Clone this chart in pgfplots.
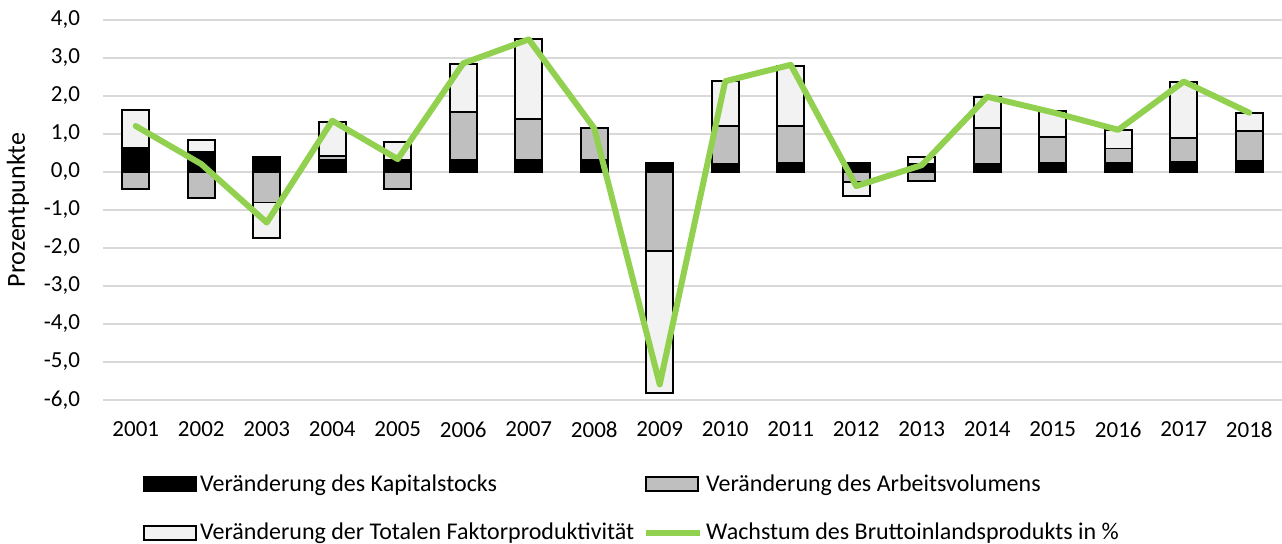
\documentclass[border=0pt]{standalone}
\usepackage{pgfplots}
\pgfplotsset{compat=1.18}
\usepackage{pgfplotstable}
\usepackage{fontspec}
\setmainfont{Carlito}
\definecolor{kap}{HTML}{000000}
\definecolor{arb}{HTML}{BFBFBF}
\definecolor{tfp}{HTML}{F2F2F2}
\definecolor{bip}{HTML}{92D050}
\definecolor{gridc}{HTML}{D9D9D9}
\pgfplotstableread{
idx year K A T G
0 2001 0.64 -0.45 0.99 1.21
1 2002 0.52 -0.68 0.32 0.21
2 2003 0.39 -0.80 -0.94 -1.33
3 2004 0.31 0.12 0.88 1.35
4 2005 0.31 -0.45 0.49 0.34
5 2006 0.31 1.26 1.27 2.86
6 2007 0.31 1.08 2.10 3.49
7 2008 0.33 0.83 0.00 1.15
8 2009 0.25 -2.07 -3.75 -5.59
9 2010 0.21 1.01 1.17 2.39
10 2011 0.25 0.97 1.57 2.82
11 2012 0.25 -0.26 -0.37 -0.37
12 2013 0.21 -0.24 0.19 0.18
13 2014 0.21 0.94 0.82 1.98
14 2015 0.23 0.70 0.68 1.57
15 2016 0.23 0.39 0.49 1.11
16 2017 0.26 0.64 1.46 2.38
17 2018 0.29 0.79 0.48 1.56
}\data
\begin{document}
\begin{tikzpicture}[font=\fontsize{11.5}{13.5}\selectfont]
\useasboundingbox (0,0) rectangle (641pt,271.5pt);
\begin{axis}[
  at={(51.5pt,71.5pt)}, anchor=south west,
  scale only axis, width=589.5pt, height=190pt,
  xmin=-0.5, xmax=17.5, ymin=-6, ymax=4,
  xtick=data, xticklabels={2001,2002,2003,2004,2005,2006,2007,2008,2009,2010,2011,2012,2013,2014,2015,2016,2017,2018},
  ytick={-6,-5,...,4},
  ymajorgrids, grid style={gridc, line width=0.7pt},
  axis line style={draw=none},
  major tick length=0pt,
  /pgf/number format/assume math mode=true,
  yticklabel style={/pgf/number format/fixed, /pgf/number format/fixed zerofill, /pgf/number format/precision=1, /pgf/number format/use comma, /tikz/xshift=-8pt},
  xticklabel style={/tikz/yshift=-7.5pt},
  ylabel={Prozentpunkte},
  every axis y label/.style={at={(axis description cs:0,0.5)}, xshift=-42.5pt, rotate=90, anchor=center, font=\fontsize{13}{15}\selectfont},
  legend columns=2,
  legend cell align=left,
  legend style={at={(axis description cs:0,0)}, anchor=north west, xshift=20pt, yshift=-35.5pt,
    draw=none, fill=none, inner sep=0pt, row sep=11.5pt,
    font=\fontsize{12}{14}\selectfont,
    nodes={inner sep=1.5pt},
    /tikz/every even column/.append style={column sep=3pt}},
  bars/.style={ybar, bar width=13.5pt, bar shift=0pt, draw=black, line width=0.9pt, forget plot},
]
% positive stacks
\addplot[bars, fill=tfp] table[x=idx, y expr={max(\thisrow{K},0)+max(\thisrow{A},0)+max(\thisrow{T},0)}] {\data};
\addplot[bars, fill=arb] table[x=idx, y expr={max(\thisrow{K},0)+max(\thisrow{A},0)}] {\data};
\addplot[bars, fill=kap] table[x=idx, y expr={max(\thisrow{K},0)}] {\data};
% negative stacks
\addplot[bars, fill=tfp, y filter/.expression={y==0 ? nan : y}] table[x=idx, y expr={min(\thisrow{A},0)+min(\thisrow{T},0)}] {\data};
\addplot[bars, fill=arb, y filter/.expression={y==0 ? nan : y}] table[x=idx, y expr={min(\thisrow{A},0)}] {\data};
% GDP line
\addplot[sharp plot, bip, line width=3pt, line join=round, line cap=round, forget plot] table[x=idx, y=G] {\data};
% legend
\addlegendimage{legend image code/.code={\draw[fill=kap, draw=black, line width=0.9pt] (0pt,-3.5pt) rectangle (26pt,3.5pt);}}
\addlegendentry{Veränderung des Kapitalstocks}
\addlegendimage{legend image code/.code={\draw[fill=arb, draw=black, line width=0.9pt] (0pt,-3.5pt) rectangle (26pt,3.5pt);}}
\addlegendentry{Veränderung des Arbeitsvolumens}
\addlegendimage{legend image code/.code={\draw[fill=tfp, draw=black, line width=0.9pt] (0pt,-3.5pt) rectangle (26pt,3.5pt);}}
\addlegendentry{Veränderung der Totalen Faktorproduktivität}
\addlegendimage{legend image code/.code={\draw[bip, line width=3pt] (0pt,0pt) -- (27pt,0pt);}}
\addlegendentry{Wachstum des Bruttoinlandsprodukts in \%}
\end{axis}
\end{tikzpicture}
\end{document}
